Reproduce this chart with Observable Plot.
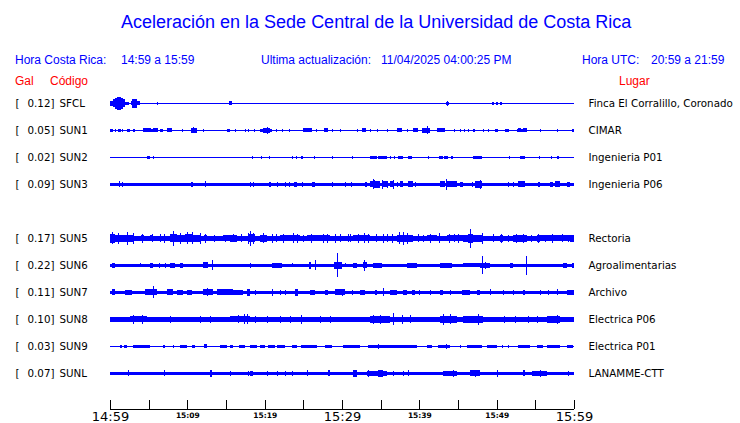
<!DOCTYPE html>
<html><head><meta charset="utf-8">
<script src="https://cdn.jsdelivr.net/npm/d3@7"></script>
<script src="https://cdn.jsdelivr.net/npm/@observablehq/plot@0.6"></script>
<style>
body{margin:0;background:#fff;}
#hdr{position:relative;width:740px;height:90px;font-family:"Liberation Sans",Arial,sans-serif;}
#hdr span{position:absolute;white-space:pre;line-height:1;}
.t{font-size:18px;color:#0000ff;top:13.3px;}
.s{font-size:12px;color:#0000ff;top:54.3px;}
.h{font-size:12px;color:#ff0000;top:74.8px;}
#chart svg{display:block;}
</style></head>
<body>
<div id="hdr">
  <span class="t" style="left:121px">Aceleración en la Sede Central de la Universidad de Costa Rica</span>
  <span class="s" style="left:15px">Hora Costa Rica:</span>
  <span class="s" style="left:121px">14:59 a 15:59</span>
  <span class="s" style="left:261px">Ultima actualización:</span>
  <span class="s" style="left:381px">11/04/2025 04:00:25 PM</span>
  <span class="s" style="left:582px">Hora UTC:</span>
  <span class="s" style="left:651px">20:59 a 21:59</span>
  <span class="h" style="left:15px">Gal</span>
  <span class="h" style="left:50px">Código</span>
  <span class="h" style="left:619px">Lugar</span>
</div>
<div id="chart"></div>
<script>
// ---- stations (rows top to bottom; row 4 = SUN4, not shown) ----
const rows = [0, 1, 2, 3, 5, 6, 7, 8, 9, 10];
const codes = ["SFCL", "SUN1", "SUN2", "SUN3", "SUN5", "SUN6", "SUN7", "SUN8", "SUN9", "SUNL"];
const galPeaks = [0.12, 0.05, 0.02, 0.09, 0.17, 0.22, 0.11, 0.10, 0.03, 0.07];
const places = ["Finca El Corralillo, Coronado", "CIMAR", "Ingenieria P01", "Ingenieria P06", "Rectoria",
  "Agroalimentarias", "Archivo", "Electrica P06", "Electrica P01", "LANAMME-CTT"];
// background noise half-amplitude of each trace (trace units)
const noiseLevel = [0.6, 0.7, 0.5, 1.8, 2.3, 1.5, 1.8, 2.2, 0.6, 1.8];

// ---- time axis (minutes after 14:59) ----
const tickMinutes = [0, 5, 10, 15, 20, 25, 30, 35, 40, 45, 50, 55, 60];
const labelMinutes = [0, 10, 20, 30, 40, 50, 60];
const labelTexts = ["14:59", "15:09", "15:19", "15:29", "15:39", "15:49", "15:59"];

// ---- bursts: [start min, end min, half-amplitude]; spikes: [min, half-amplitude] ----
const sfclBursts = [[0,0.5,2.3],[0.4,2.0,4.0],[0.7,1.7,5.2],[0.9,1.4,6.2],[2.0,2.4,1.5],[2.75,3.9,2.0],[2.9,3.5,4.3],
  [15.45,15.84,2.0],[43.45,43.84,1.8],[49.4,49.66,1.3],[49.92,50.17,1.3],[50.43,50.69,1.3]];
const sfclSpikes = [[0.6,5.5],[1.1,6.7],[6.08,1.3],[43.58,2.5]];

const sun1Bursts = [[0,0.43,1.5],[1.07,1.38,1.3],[2.16,2.59,1.3],[2.94,3.23,1.7],[4.23,6.25,1.5],[4.27,5.34,2.0],[5.6,6.25,2.0],
  [6.47,6.9,1.3],[7.33,8.06,2.0],[10.47,11.21,2.2],[15.09,15.52,1.7],[19.4,20.91,1.7],[19.83,20.69,2.3],[24.92,26.08,2.0],
  [27.71,28.23,2.0],[32.54,33.1,2.0],[37.07,37.72,2.0],[39.22,39.87,2.0],[40.31,41.38,2.5],[42.24,43.32,2.0],[49.79,50.22,1.8],
  [51.08,51.64,1.8],[52.59,53.88,1.5],[52.8,53.1,2.0],[53.4,53.88,2.0],[59.7,60,1.8]];
const sun1Spikes = [[0.65,1.5],[1.51,1.3],[9.27,1.5],[10.77,3.0],[12.07,1.5],[16.16,1.3],[17.46,1.5],[17.89,1.5],[18.66,1.3],
  [20.26,3.3],[21.42,1.3],[22.2,1.3],[23.19,1.5],[26.64,1.5],[28.66,1.3],[29.74,1.3],[31.9,1.3],[33.62,1.3],[34.49,1.5],
  [35.78,1.3],[38.36,1.3],[41.03,4.0],[44.48,1.5],[45.26,1.3],[45.78,1.3],[46.34,1.3],[46.98,1.5],[47.07,1.5],[48.27,1.3],
  [48.92,1.3],[55.6,1.3],[57.84,1.5]];

const sun2Bursts = [[4.74,5.17,1.5],[24.7,24.95,1.4],[33.62,33.97,1.3],[34.05,34.49,1.6],[34.6,35.78,1.6],[37.28,37.93,1.5],
  [38.58,39.01,1.6],[42.58,43.1,1.5],[43.19,43.75,1.5],[44.06,44.4,1.3],[46.98,48.06,1.6],[53.02,53.67,1.5],[57.76,58.06,1.5]];
const sun2Spikes = [[5.52,1.2],[18.4,1.2],[19.48,1.2],[20.6,1.2],[23.49,1.2],[24.01,1.2],[26.42,1.2],[28.75,1.2],[31.25,1.2],
  [36.21,1.3],[36.73,1.3],[41.16,1.2],[51.64,1.2],[55.52,1.2],[56.99,1.2]];

const sun3Bursts = [[10.45,10.7,2.6],[20.6,20.86,2.4],[21.56,21.77,2.3],[23.84,24.14,2.4],[24.79,25.0,2.7],[26.08,26.51,2.4],
  [32.98,33.19,2.3],[33.62,33.97,3.0],[33.97,34.27,4.0],[34.27,34.92,3.3],[35.26,35.78,3.1],[36.21,36.73,3.1],[37.07,37.28,2.5],
  [37.5,37.93,2.9],[38.58,39.22,3.1],[42.67,43.32,2.9],[43.54,44.83,2.9],[45.26,45.65,2.3],[46.77,46.98,2.7],[47.2,48.06,3.4],
  [52.8,53.67,2.9],[55.39,55.6,2.5],[56.9,57.33,2.5],[57.55,58.19,3.1],[59.06,59.48,2.4]];
const sun3Spikes = [[1.2,3.0],[1.51,2.5],[12.28,3.0],[18.1,2.3],[18.45,2.3],[22.63,2.3],[23.19,2.3],[28.75,2.3],[30.39,2.3],
  [31.17,2.3],[34.05,5.0],[35.13,4.3],[35.78,3.8],[36.56,4.3],[39.44,2.5],[43.45,5.2],[47.8,4.3],[51.51,2.3],[52.16,2.3]];

const sun5Bursts = [[0,0.65,4.3],[0.65,1.72,3.4],[1.72,2.4,3.4],[2.37,3.01,3.6],[3.0,7.8,2.6],[4.0,4.4,3.1],[5.2,5.6,3.1],
  [7.76,8.62,4.0],[8.62,9.7,3.5],[9.7,10.77,4.0],[10.77,11.64,3.3],[11.64,14.65,2.6],[12.1,12.5,3.1],[14.65,15.52,2.9],
  [15.52,16.38,3.3],[16.38,17.88,2.7],[17.88,18.75,3.9],[18.75,21.98,2.8],[19.4,20.26,3.5],[21.98,24.57,3.0],[24.57,25.43,2.6],
  [25.43,28.45,3.0],[28.45,31.47,2.8],[31.47,33.62,3.1],[33.62,37.07,2.8],[37.07,39.22,3.5],[39.22,40.95,2.8],[40.95,42.24,3.1],
  [42.24,43.54,2.7],[43.54,45.69,3.1],[45.69,46.34,3.6],[46.34,46.98,4.3],[46.98,48.27,3.3],[48.27,50.43,2.7],[50.43,50.86,3.3],
  [50.86,52.16,2.7],[52.16,53.88,3.2],[53.88,55.17,2.7],[55.17,55.6,3.2],[55.6,56.9,2.9],[56.9,57.76,3.1],[57.76,59.48,2.9],
  [59.48,60,3.3]];
const sun5Spikes = [[0.3,6.0],[1.0,5.3],[2.16,6.5],[2.92,5.7],[4.2,4.2],[5.4,4.0],[6.5,4.0],[7.0,4.3],[8.19,7.3],[9.05,5.5],
  [9.92,6.0],[10.56,6.0],[11.64,5.3],[12.3,4.2],[13.5,3.8],[14.9,3.8],[15.95,4.0],[16.9,4.0],[17.88,5.3],[18.1,7.3],[18.53,5.5],
  [19.83,5.0],[20.9,4.2],[21.5,4.0],[22.4,4.5],[23.6,5.0],[24.2,4.5],[25.0,3.8],[26.0,4.5],[27.5,4.7],[28.1,4.5],[29.1,4.3],
  [29.74,4.0],[30.8,4.0],[31.0,4.0],[32.1,4.7],[32.9,5.0],[33.4,4.5],[34.4,4.0],[35.3,4.5],[35.8,4.0],[36.5,4.2],[37.4,6.0],
  [37.93,6.7],[38.4,5.5],[39.8,4.0],[40.5,3.8],[41.4,4.7],[42.5,5.0],[43.9,4.7],[44.5,4.0],[45.0,4.3],[46.6,9.3],[48.06,5.7],
  [49.5,4.0],[50.6,4.6],[51.5,3.8],[52.5,4.5],[53.4,4.3],[54.5,3.8],[55.4,4.6],[56.2,3.8],[57.2,4.3],[58.4,4.0],[59.2,3.8]];

const sun6Bursts = [[0.22,0.65,2.3],[5.17,5.6,2.2],[7.76,8.41,2.2],[9.05,9.4,2.3],[12.07,12.71,3.0],[20.91,22.2,2.2],
  [25.78,25.96,3.3],[28.97,29.96,3.3],[31.47,31.9,2.2],[32.76,33.19,3.0],[34.05,35.13,2.2],[38.36,39.65,2.2],[42.67,44.18,2.2],
  [45.69,47.85,2.0],[47.85,49.14,2.5],[51.73,52.16,2.3],[58.62,59.05,2.3],[59.7,60,2.3]];
const sun6Spikes = [[3.88,2.0],[6.38,2.3],[7.11,2.3],[13.15,5.0],[18.1,2.3],[23.49,2.0],[26.55,5.0],[29.4,12.0],[30.39,2.0],
  [32.89,5.5],[48.06,9.0],[48.49,3.5],[53.79,9.5]];

const sun7Bursts = [[0.22,0.65,3.0],[1.94,2.8,2.5],[4.53,6.04,3.0],[7.33,8.19,3.0],[8.62,9.48,2.5],[9.92,10.56,2.5],
  [12.07,13.36,3.0],[13.79,15.95,3.0],[15.95,17.24,2.5],[17.67,18.1,3.5],[23.92,24.35,3.5],[25.86,26.51,2.5],[27.8,28.23,2.5],
  [29.1,30.39,3.0],[32.33,32.98,2.5],[34.27,34.49,2.5],[36.21,37.07,2.5],[37.93,38.36,2.5],[39.01,39.44,2.5],[42.67,43.1,2.5],
  [45.48,46.55,2.5],[47.42,47.85,2.5],[53.45,53.67,2.5],[59.06,60,2.5]];
const sun7Spikes = [[5.52,6.0],[12.5,4.0],[18.75,2.5],[20.91,3.5],[21.98,2.5],[22.63,2.5],[30.0,3.8],[31.25,2.5],[35.35,4.0],
  [40.0,2.5],[41.38,2.5],[43.97,2.5],[49.14,3.0],[50.86,2.5],[52.16,2.5],[55.6,2.5],[56.68,2.5],[57.76,3.0]];

const sun8Bursts = [[0,2.59,2.7],[2.59,4.74,3.0],[4.74,7.76,2.6],[8.19,11.21,2.4],[11.64,15.09,2.7],[15.52,18.1,3.0],
  [18.1,24.14,2.7],[25.43,32.76,2.5],[33.62,36.21,3.2],[37.07,39.65,2.8],[39.65,42.67,2.4],[42.67,44.83,3.6],[44.83,45.69,2.7],
  [45.69,46.55,3.3],[46.55,48.27,3.6],[48.27,49.57,2.7],[49.57,55.6,2.7],[56.47,58.19,3.3],[58.19,60,2.8]];
const sun8Spikes = [[3.0,4.3],[4.1,4.3],[7.76,3.5],[11.64,3.8],[12.93,3.8],[16.6,4.0],[17.33,5.0],[17.67,5.0],[18.75,3.8],
  [20.26,3.5],[21.98,3.5],[23.28,3.8],[24.7,4.5],[27.2,3.3],[28.45,3.3],[34.05,4.5],[34.9,4.3],[36.64,6.0],[37.8,4.3],
  [38.8,4.0],[43.1,5.3],[43.97,5.0],[47.6,5.3],[47.63,5.7],[50.95,3.8],[52.4,3.5],[54.0,3.5],[55.2,3.8],[57.8,4.8]];

const sun9Bursts = [[1.29,1.51,1.5],[1.81,2.16,1.5],[3.02,3.88,1.5],[3.88,5.17,1.8],[6.9,7.11,1.5],[9.05,9.92,1.5],
  [10.56,10.99,1.5],[12.16,12.5,2.0],[14.22,15.09,1.5],[15.52,15.95,1.5],[16.68,17.46,1.5],[18.1,18.97,1.5],[19.4,20.04,1.5],
  [20.47,21.34,1.5],[21.56,22.63,1.7],[23.49,24.14,1.5],[24.66,26.72,1.7],[27.8,28.66,1.5],[30.17,32.33,1.7],[33.41,39.65,1.7],
  [40.95,41.6,1.5],[42.45,43.97,1.8],[46.12,48.06,1.5],[48.7,50.0,1.5],[52.8,54.31,1.5],[55.17,56.04,1.5],[56.47,58.19,1.5],
  [59.06,59.9,1.5]];
const sun9Spikes = [[8.1,1.5],[34.7,2.3],[43.45,2.5],[45.26,1.5],[46.34,1.5],[50.65,1.5],[51.51,1.5]];

const sunlBursts = [[12.93,13.15,3.5],[18.1,18.53,2.5],[28.23,28.45,3.0],[31.47,31.9,3.5],[33.19,35.78,2.7],[34.7,35.3,3.2],
  [43.1,44.83,2.7],[46.55,47.85,3.0],[53.45,53.67,3.0],[54.53,56.47,2.7]];
const sunlSpikes = [[2.37,3.0],[7.03,3.0],[15.52,2.5],[17.88,2.5],[20.26,2.7],[21.56,2.5],[22.63,2.5],[23.49,2.5],[25.43,3.0],
  [33.4,3.5],[36.64,2.5],[37.93,2.5],[38.58,3.0],[44.4,3.3],[47.2,3.5],[50.0,3.3],[55.6,3.3],[59.27,2.5]];

const burstSets = [sfclBursts, sun1Bursts, sun2Bursts, sun3Bursts, sun5Bursts, sun6Bursts, sun7Bursts, sun8Bursts, sun9Bursts, sunlBursts];
const spikeSets = [sfclSpikes, sun1Spikes, sun2Spikes, sun3Spikes, sun5Spikes, sun6Spikes, sun7Spikes, sun8Spikes, sun9Spikes, sunlSpikes];

// ---- build tables ----
const AMP = 27; // trace units per row spacing
const bands = codes.map((c, i) => ({r: rows[i], a: noiseLevel[i]}));
const bursts = burstSets.flatMap((set, i) => set.map(([t0, t1, a]) => ({r: rows[i], t0, t1, a})));
const spikes = spikeSets.flatMap((set, i) => set.map(([t, a]) => ({r: rows[i], t, a})));
const labels = codes.map((c, i) => ({r: rows[i], code: c, gal: galPeaks[i].toFixed(2) + "]", place: places[i]}));
const axisLabels = labelMinutes.map((m, i) => ({m, text: labelTexts[i], major: m % 30 === 0}));

const BLUE = "#0000ff";
const AXIS_Y = 11.32, TICK_TOP = 10.99;

const chart = Plot.plot({
  width: 740,
  height: 333,
  margin: 0,
  style: {fontFamily: "'DejaVu Sans', sans-serif", fontSize: "10.3px", background: "white", color: "black", overflow: "visible"},
  x: {domain: [0, 60], range: [110, 574], axis: null},
  y: {domain: [0, 10], range: [13.3, 283.3], axis: null},
  marks: [
    Plot.rect(bands, {x1: 0, x2: 60, y1: d => d.r - d.a / AMP, y2: d => d.r + d.a / AMP, fill: BLUE, shapeRendering: "crispEdges"}),
    Plot.rect(bursts, {x1: "t0", x2: "t1", y1: d => d.r - d.a / AMP, y2: d => d.r + d.a / AMP, fill: BLUE, shapeRendering: "crispEdges"}),
    Plot.ruleX(spikes, {x: "t", y1: d => d.r - d.a / AMP, y2: d => d.r + d.a / AMP, stroke: BLUE, strokeWidth: 1, shapeRendering: "crispEdges"}),
    Plot.text(labels, {y: "r", text: () => "[", frameAnchor: "left", dx: 15, textAnchor: "start", fill: "black"}),
    Plot.text(labels, {y: "r", text: "gal", frameAnchor: "left", dx: 54, textAnchor: "end", fill: "black"}),
    Plot.text(labels, {y: "r", text: "code", frameAnchor: "left", dx: 59, textAnchor: "start", fill: "black"}),
    Plot.text(labels, {y: "r", text: "place", frameAnchor: "left", dx: 588, textAnchor: "start", fill: "black"}),
    Plot.ruleY([AXIS_Y], {x1: 0, x2: 60, stroke: "black", shapeRendering: "crispEdges"}),
    Plot.ruleX(tickMinutes, {x: d => d, y1: TICK_TOP, y2: AXIS_Y, stroke: "black", shapeRendering: "crispEdges"}),
    Plot.text(axisLabels.filter(d => d.major), {x: "m", y: 11.6, text: "text", fontSize: 13, fill: "black"}),
    Plot.text(axisLabels.filter(d => !d.major), {x: "m", y: 11.56, text: "text", fontSize: 7.5, fontWeight: "bold", fill: "black"})
  ]
});
document.getElementById("chart").appendChild(chart);
</script>
</body></html>
